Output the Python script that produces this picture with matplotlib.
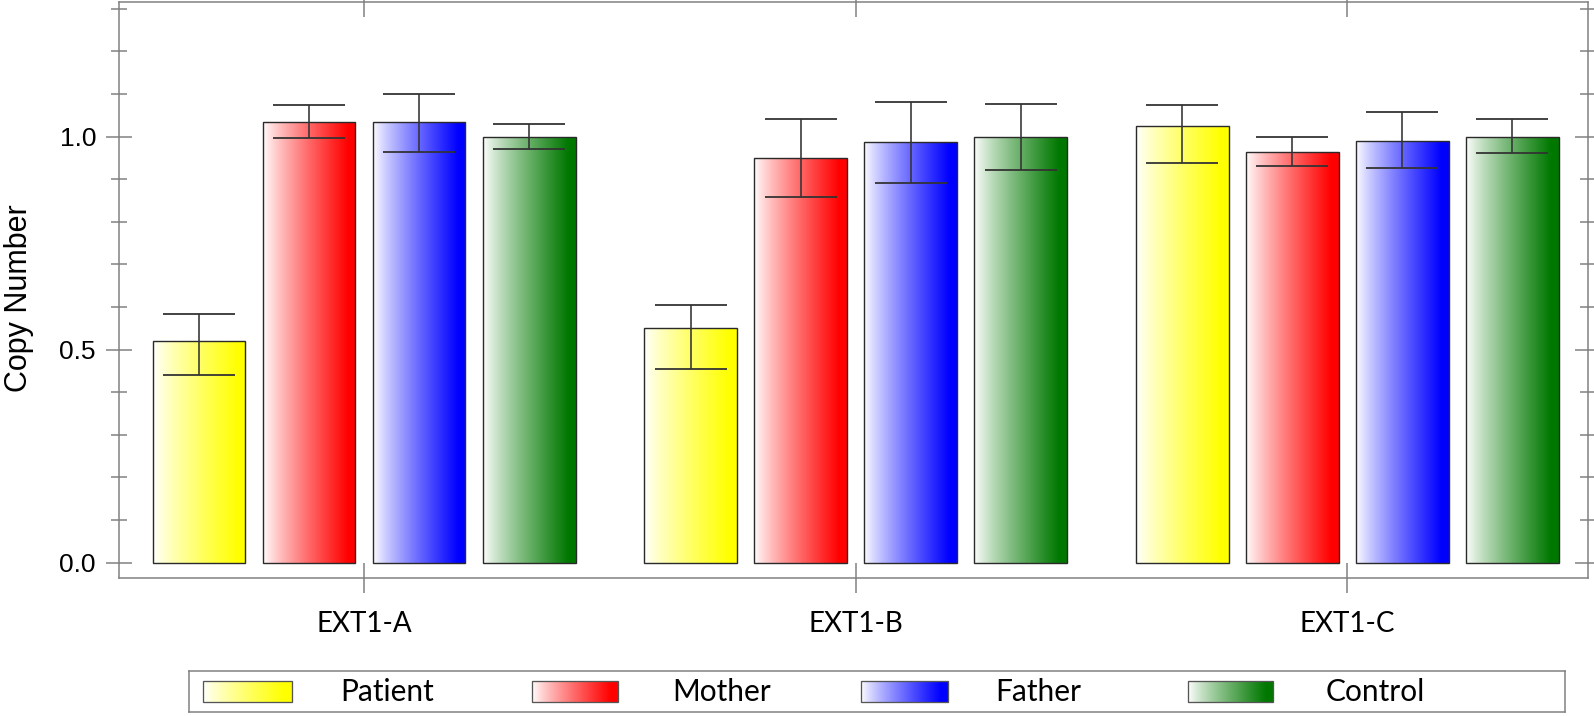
import numpy as np
import matplotlib
matplotlib.use('Agg')
import matplotlib.pyplot as plt
from matplotlib import font_manager
from matplotlib.patches import Rectangle
from matplotlib.colors import to_rgb
from matplotlib.ticker import MultipleLocator, FixedLocator

# ---------------- data ----------------
groups = ['EXT1-A', 'EXT1-B', 'EXT1-C']
series = ['Patient', 'Mother', 'Father', 'Control']

patient = [0.521, 0.550, 1.025]
patient_lo = [0.441, 0.455, 0.938]
patient_hi = [0.584, 0.605, 1.074]

mother = [1.035, 0.949, 0.965]
mother_lo = [0.997, 0.859, 0.930]
mother_hi = [1.074, 1.041, 1.000]

father = [1.034, 0.988, 0.990]
father_lo = [0.963, 0.892, 0.926]
father_hi = [1.100, 1.081, 1.057]

control = [1.000, 0.999, 1.000]
control_lo = [0.970, 0.922, 0.962]
control_hi = [1.029, 1.077, 1.042]

y_ticks = [0.0, 0.5, 1.0]
y_tick_labels = ['0.0', '0.5', '1.0']

values = [patient, mother, father, control]
lows = [patient_lo, mother_lo, father_lo, control_lo]
highs = [patient_hi, mother_hi, father_hi, control_hi]
colors = ['#ffff00', '#ff0000', '#0000ff', '#007800']

# ---------------- fonts ----------------
names = {f.name for f in font_manager.fontManager.ttflist}
human = 'Lato' if 'Lato' in names else 'DejaVu Sans'

def gradient(color, n=256):
    t = np.linspace(0, 1, n)
    f = np.clip(t / 0.92, 0, 1) ** 0.85
    c = np.array(to_rgb(color))
    w = np.array([1.0, 1.0, 1.0])
    rgb = w[None, :] * (1 - f[:, None]) + c[None, :] * f[:, None]
    return rgb[None, :, :]

DPI = 100
W, H = 1594, 716
fig = plt.figure(figsize=(W / DPI, H / DPI), dpi=DPI)
ax = fig.add_axes([119 / W, 1 - 578 / H, (1588 - 119) / W, 576 / H])

px = 72 / DPI  # points per pixel
gray = '#7f7f7f'
edge = '#2a2a2a'

x = np.arange(len(groups))
pitch = 0.2238
width = 0.189
for i, (vals, lo, hi, col) in enumerate(zip(values, lows, highs, colors)):
    vals = np.array(vals); lo = np.array(lo); hi = np.array(hi)
    xs = x + (i - 1.5) * pitch
    bars = ax.bar(xs, vals, width, facecolor='none', edgecolor=edge,
                  linewidth=1.4 * px, zorder=3)
    g = gradient(col)
    for b in bars:
        x0 = b.get_x(); x1 = x0 + b.get_width(); h = b.get_height()
        im = ax.imshow(g, extent=[x0, x1, 0, h], aspect='auto', zorder=2,
                       interpolation='bilinear')
        im.set_clip_path(b)
    ax.errorbar(xs, vals, yerr=[vals - lo, hi - vals], fmt='none',
                ecolor='#333333', elinewidth=1.6 * px, capsize=36 * px,
                capthick=1.8 * px, zorder=4)

ax.set_xlim(-0.4985, 2.490)
ax.set_ylim(-0.036, 1.316)

for s in ax.spines.values():
    s.set_color(gray)
    s.set_linewidth(1.5 * px)

ax.set_xticks(x)
ax.set_xticklabels(groups, fontfamily=human, fontsize=20)
ax.yaxis.set_major_locator(FixedLocator(y_ticks))
ax.set_yticklabels(y_tick_labels, fontfamily='Liberation Sans', fontsize=19)
ax.yaxis.set_minor_locator(MultipleLocator(0.1))

ax.tick_params(axis='x', which='major', direction='inout', length=30 * px,
               width=1.5 * px, color=gray, top=True, bottom=True,
               labeltop=False, pad=18 * px)
ax.tick_params(axis='y', which='major', direction='inout', length=26 * px,
               width=1.5 * px, color=gray, left=True, right=True,
               labelright=False, pad=10 * px)
ax.tick_params(axis='y', which='minor', direction='inout', length=16 * px,
               width=1.5 * px, color=gray, left=True, right=True)
ax.tick_params(axis='x', which='minor', bottom=False, top=False)

fig.text(19 / W, 1 - 298 / H, 'Copy Number', rotation=90, ha='center',
         va='center', fontfamily='Liberation Sans', fontsize=22)

# ---------------- legend ----------------
lx0, lx1, ly0, ly1 = 189, 1565, 671, 712
lax = fig.add_axes([lx0 / W, 1 - ly1 / H, (lx1 - lx0) / W, (ly1 - ly0) / H])
lax.set_xticks([]); lax.set_yticks([])
for s in lax.spines.values():
    s.set_color(gray)
    s.set_linewidth(1.5 * px)
handle_x = [(203, 292), (532, 618), (861, 948), (1188, 1273)]
text_x = [340, 672, 995, 1326]
for (hx0, hx1), tx, name, col in zip(handle_x, text_x, series, colors):
    lax.imshow(gradient(col), extent=[hx0, hx1, 702, 681], aspect='auto',
               interpolation='bilinear', zorder=2)
    lax.add_patch(Rectangle((hx0, 681), hx1 - hx0, 21, facecolor='none',
                            edgecolor='#555555', linewidth=1.3 * px, zorder=3))
    lax.text(tx, 692, name, ha='left', va='center', fontfamily=human,
             fontsize=21.5, color='black')
lax.set_xlim(lx0, lx1)
lax.set_ylim(ly1, ly0)

fig.savefig('out.png', dpi=DPI)
